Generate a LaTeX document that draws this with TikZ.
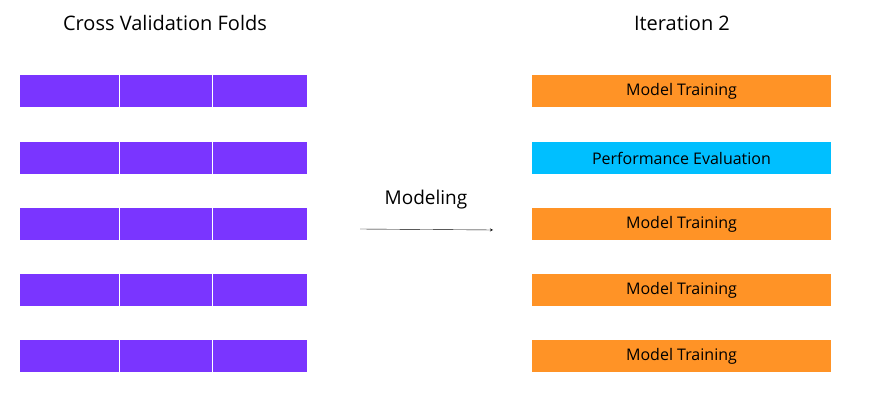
\documentclass[tikz,border=0pt]{standalone}
\usepackage{fontspec}
\setmainfont{Open Sans}
\definecolor{foldpurple}{HTML}{7A35FF}
\definecolor{trainorange}{HTML}{FF9326}
\definecolor{evalcyan}{HTML}{00BFFF}
\begin{document}
\begin{tikzpicture}
	[x=1pt,y=-1pt,
	every node/.style={inner sep=0pt,outer sep=0pt},
	fold/.style={fill=foldpurple,minimum height=32pt,anchor=north west},
	bar/.style={minimum width=299pt,minimum height=32pt,anchor=north west,font=\fontsize{16}{18}\selectfont},
	title/.style={font=\fontsize{20}{24}\selectfont}]
	\useasboundingbox (0,0) rectangle (889,406);
	\node (cvtitle) [title] at (165,23) {Cross Validation Folds};
	\node (ittitle) [title] at (682,23) {Iteration 2};
	\foreach \r/\y in {1/75,2/142,3/208,4/274,5/340} {
		\node (fold-\r-1) [fold,minimum width=99pt] at (20,\y) {};
		\node (fold-\r-2) [fold,minimum width=92pt] at (120,\y) {};
		\node (fold-\r-3) [fold,minimum width=94pt] at (213,\y) {};
	}
	\foreach \r/\y in {1/75,3/208,4/274,5/340}
		\node (train-\r) [bar,fill=trainorange] at (532,\y) {Model Training};
	\node (eval-2) [bar,fill=evalcyan] at (532,142) {Performance Evaluation};
	\node (model) [font=\fontsize{19}{22}\selectfont] at (426,200) {Modeling};
	\coordinate (arrowstart) at (360,229);
	\coordinate (arrowend) at (493,230);
	\draw [->,>=stealth] (arrowstart) -- (arrowend);
\end{tikzpicture}
\end{document}
